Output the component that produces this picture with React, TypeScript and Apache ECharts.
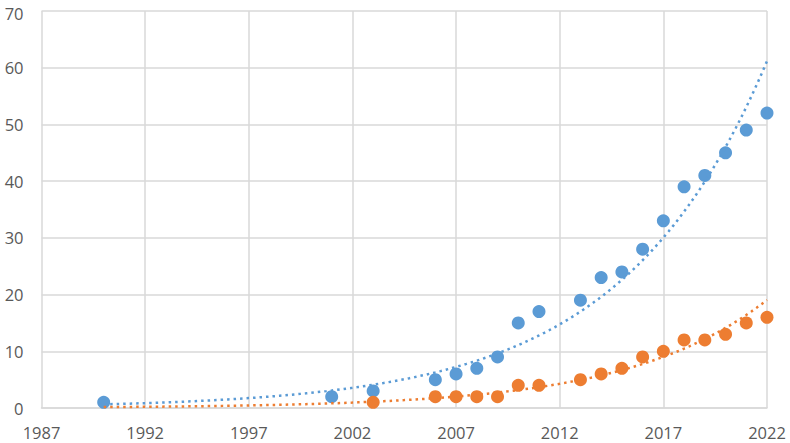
import React, { useEffect, useRef } from "react";
import * as echarts from "echarts";

const BASE_YEAR = 1987;
const blueYears = [1990, 2001, 2003, 2006, 2007, 2008, 2009, 2010, 2011, 2013, 2014, 2015, 2016, 2017, 2018, 2019, 2020, 2021, 2022];
const blueValues = [1, 2, 3, 5, 6, 7, 9, 15, 17, 19, 23, 24, 28, 33, 39, 41, 45, 49, 52];
const orangeYears = [2003, 2006, 2007, 2008, 2009, 2010, 2011, 2013, 2014, 2015, 2016, 2017, 2018, 2019, 2020, 2021, 2022];
const orangeValues = [1, 2, 2, 2, 2, 4, 4, 5, 6, 7, 9, 10, 12, 12, 13, 15, 16];
const trendStart = 1990;
const trendEnd = 2022;
const Y_MAX = 70;

const BLUE = "#5B9BD5";
const ORANGE = "#ED7D31";

// exponential least-squares fit (like a spreadsheet's exponential trendline)
function expFit(xs: number[], ys: number[]) {
  const n = xs.length;
  const ly = ys.map((v) => Math.log(v));
  const mx = xs.reduce((a, b) => a + b, 0) / n;
  const my = ly.reduce((a, b) => a + b, 0) / n;
  let sxy = 0;
  let sxx = 0;
  for (let i = 0; i < n; i++) {
    sxy += (xs[i] - mx) * (ly[i] - my);
    sxx += (xs[i] - mx) * (xs[i] - mx);
  }
  const b = sxy / sxx;
  const a = my - b * mx;
  return (x: number) => Math.exp(a + b * x);
}

function trendData(xs: number[], ys: number[]) {
  const f = expFit(xs, ys);
  const out: number[][] = [];
  const steps = 128;
  for (let i = 0; i <= steps; i++) {
    const x = trendStart + ((trendEnd - trendStart) * i) / steps;
    out.push([x - BASE_YEAR, f(x)]);
  }
  return out;
}

export default function App() {
  const ref = useRef<HTMLDivElement>(null);
  useEffect(() => {
    if (!ref.current) return;
    const chart = echarts.init(ref.current, undefined, { renderer: "svg" });
    const labelStyle = {
      color: "#595959",
      fontSize: 16.5,
      fontFamily: "Open Sans",
      lineHeight: 16,
    };
    const gridLine = { show: true, lineStyle: { color: "#d9d9d9", width: 1.5 } };
    chart.setOption({
      animation: false,
      backgroundColor: "#ffffff",
      grid: { left: 41.5, right: 23, top: 9, bottom: 35, containLabel: false },
      xAxis: {
        type: "value",
        min: 0,
        max: 35,
        interval: 5,
        axisLine: { show: true, lineStyle: { color: "#d9d9d9", width: 1.5 } },
        axisTick: { show: false },
        splitLine: gridLine,
        axisLabel: {
          ...labelStyle,
          margin: 16,
          formatter: (v: number) => String(v + BASE_YEAR),
        },
      },
      yAxis: {
        type: "value",
        min: 0,
        max: Y_MAX,
        interval: 10,
        axisLine: { show: false },
        axisTick: { show: false },
        splitLine: gridLine,
        axisLabel: {
          ...labelStyle,
          margin: 18,
          formatter: (v: number) => (v === Y_MAX ? `{top|${v}}` : String(v)),
          rich: {
            top: {
              color: "#595959",
              fontSize: 16.5,
              fontFamily: "Open Sans",
              lineHeight: 16,
              padding: [5, 0, 0, 0],
            },
          },
        },
      },
      series: [
        {
          type: "scatter",
          symbolSize: 13,
          itemStyle: { color: BLUE, opacity: 1 },
          data: blueYears.map((y, i) => [y - BASE_YEAR, blueValues[i]]),
          z: 2,
        },
        {
          type: "scatter",
          symbolSize: 13,
          itemStyle: { color: ORANGE, opacity: 1 },
          data: orangeYears.map((y, i) => [y - BASE_YEAR, orangeValues[i]]),
          z: 2,
        },
        {
          type: "line",
          showSymbol: false,
          symbol: "none",
          smooth: false,
          lineStyle: { color: BLUE, width: 2.5, type: [2.5, 4] },
          data: trendData(blueYears, blueValues),
          z: 3,
        },
        {
          type: "line",
          showSymbol: false,
          symbol: "none",
          smooth: false,
          lineStyle: { color: ORANGE, width: 2.5, type: [2.5, 4] },
          data: trendData(orangeYears, orangeValues),
          z: 3,
        },
      ],
    });
    return () => chart.dispose();
  }, []);
  return (
    <div
      ref={ref}
      style={{ position: "absolute", left: 0, top: 0, width: 790, height: 443 }}
    />
  );
}
